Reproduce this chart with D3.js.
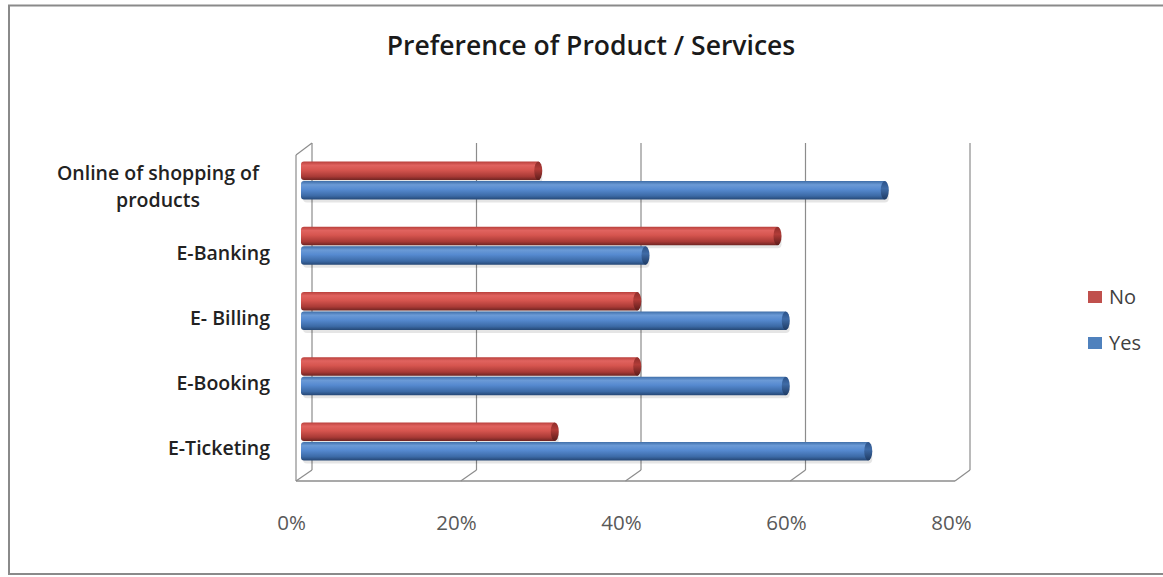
<!DOCTYPE html>
<html><head><meta charset="utf-8">
<script src="https://cdn.jsdelivr.net/npm/d3@7"></script>
<style>body{margin:0;background:#fff}svg{display:block}</style>
</head><body>
<script>
const categories = ["Online of shopping of products", "E-Banking", "E- Billing", "E-Booking", "E-Ticketing"];
const categoryLines = [["Online of shopping of", "products"], ["E-Banking"], ["E- Billing"], ["E-Booking"], ["E-Ticketing"]];
const series = ["No", "Yes"];
const noValues = [0.29, 0.58, 0.41, 0.41, 0.31];
const yesValues = [0.71, 0.42, 0.59, 0.59, 0.69];
const tickValues = [0, 0.2, 0.4, 0.6, 0.8];
const title = "Preference of Product / Services";

const W = 1163, H = 577;
const svg = d3.select("body").append("svg").attr("width", W).attr("height", H);
const font = "'Open Sans', Lato, sans-serif";

svg.append("rect").attr("x", 9).attr("y", 5.5).attr("width", 1170).attr("height", 568.5)
  .attr("fill", "#fff").attr("stroke", "#8a8a8a").attr("stroke-width", 2);

svg.append("text").attr("x", 591).attr("y", 55).attr("text-anchor", "middle")
  .attr("font-family", font).attr("font-weight", 600).attr("font-size", 26.5)
  .attr("fill", "#1a1a1a").text(title);

const xBack = d3.scaleLinear().domain([0, 0.8]).range([312, 970]);
const xFront = d3.scaleLinear().domain([0, 0.8]).range([296, 955]);
const xBar = d3.scaleLinear().domain([0, 0.8]).range([301, 961]);
const xLab = d3.scaleLinear().domain([0, 0.8]).range([291, 951]);
const backTop = 143, backBottom = 470, frontBottom = 481, frontTop = 155;
const y = d3.scaleBand().domain(categories).range([148, 474]);
const ySub = d3.scaleBand().domain(series).range([-19, 19]).paddingInner(0.05);

const grid = "#8c8c8c";
const g = svg.append("g");
tickValues.forEach(v => {
  g.append("line").attr("x1", xBack(v)).attr("x2", xBack(v)).attr("y1", backTop).attr("y2", backBottom)
    .attr("stroke", grid).attr("stroke-width", 1.2);
  g.append("line").attr("x1", xBack(v)).attr("x2", xFront(v)).attr("y1", backBottom).attr("y2", frontBottom)
    .attr("stroke", grid).attr("stroke-width", 1.2);
});
g.append("line").attr("x1", xFront(0)).attr("x2", xFront(0.8)).attr("y1", frontBottom).attr("y2", frontBottom)
  .attr("stroke", grid).attr("stroke-width", 1.5);
g.append("line").attr("x1", xFront(0)).attr("x2", xFront(0)).attr("y1", frontTop).attr("y2", frontBottom)
  .attr("stroke", grid).attr("stroke-width", 1.2);
g.append("line").attr("x1", xFront(0)).attr("x2", xBack(0)).attr("y1", frontTop).attr("y2", backTop)
  .attr("stroke", grid).attr("stroke-width", 1.2);

const defs = svg.append("defs");
function grad(id, stops) {
  const lg = defs.append("linearGradient").attr("id", id).attr("x1", 0).attr("y1", 0).attr("x2", 0).attr("y2", 1);
  stops.forEach(([o, c]) => lg.append("stop").attr("offset", o).attr("stop-color", c));
}
grad("gNo", [[0, "#b9403c"], [0.2, "#e0635f"], [0.45, "#d6554f"], [0.8, "#a93a36"], [1, "#6e2422"]]);
grad("gYes", [[0, "#3f6ea8"], [0.2, "#6b9ad6"], [0.45, "#568ad0"], [0.8, "#3c6aa6"], [1, "#254775"]]);
grad("cNo", [[0, "#8e2e2b"], [0.4, "#b23c38"], [1, "#5c1c1a"]]);
grad("cYes", [[0, "#2c5288"], [0.4, "#3f6ba6"], [1, "#1e3a63"]]);

const data = [];
categories.forEach((c, i) => {
  data.push({cat: c, s: "No", v: noValues[i]});
  data.push({cat: c, s: "Yes", v: yesValues[i]});
});
const bh = ySub.bandwidth();
const bars = svg.append("g").selectAll("g").data(data).join("g")
  .attr("transform", d => `translate(0,${y(d.cat) + y.bandwidth() / 2 + ySub(d.s)})`);
bars.append("rect").attr("x", d => xBar(0) + 2).attr("y", 3).attr("height", bh)
  .attr("width", d => xBar(d.v) - xBar(0)).attr("rx", 4).attr("fill", "rgba(0,0,0,0.10)");
bars.append("rect").attr("x", d => xBar(0)).attr("y", 0).attr("height", bh)
  .attr("width", d => xBar(d.v) - xBar(0)).attr("rx", 3)
  .attr("fill", d => d.s === "No" ? "url(#gNo)" : "url(#gYes)");
bars.append("ellipse").attr("cx", d => xBar(d.v) - 2).attr("cy", bh / 2).attr("rx", 4).attr("ry", bh / 2)
  .attr("fill", d => d.s === "No" ? "url(#cNo)" : "url(#cYes)");

categories.forEach((c, i) => {
  const lines = categoryLines[i];
  const cy = y(c) + y.bandwidth() / 2;
  if (lines.length > 1) {
    const t = svg.append("text").attr("font-family", font).attr("font-weight", 600).attr("font-size", 19.5)
      .attr("fill", "#222").attr("text-anchor", "middle");
    lines.forEach((l, k) => t.append("tspan").attr("x", 158).attr("y", cy - 1 + k * 27).text(l));
  } else {
    svg.append("text").attr("x", 270).attr("y", cy + 14).attr("text-anchor", "end")
      .attr("font-family", font).attr("font-weight", 600).attr("font-size", 19.5)
      .attr("fill", "#222").text(lines[0]);
  }
});

const ax = svg.append("g").attr("transform", "translate(0,512)")
  .call(d3.axisBottom(xLab).tickValues(tickValues).tickFormat(d3.format(".0%")).tickSize(0));
ax.select(".domain").remove();
ax.selectAll("text").attr("font-family", font).attr("font-size", 20.5).attr("fill", "#595959");

const colors = {No: "#c0504d", Yes: "#4f81bd"};
series.forEach((s, i) => {
  const ly = 297 + i * 46;
  svg.append("rect").attr("x", 1088).attr("y", ly - 6).attr("width", 14).attr("height", 12).attr("fill", colors[s]);
  svg.append("text").attr("x", 1109).attr("y", ly + 7).attr("font-family", font).attr("font-size", 20)
    .attr("fill", "#404040").text(s);
});
</script>
</body></html>
